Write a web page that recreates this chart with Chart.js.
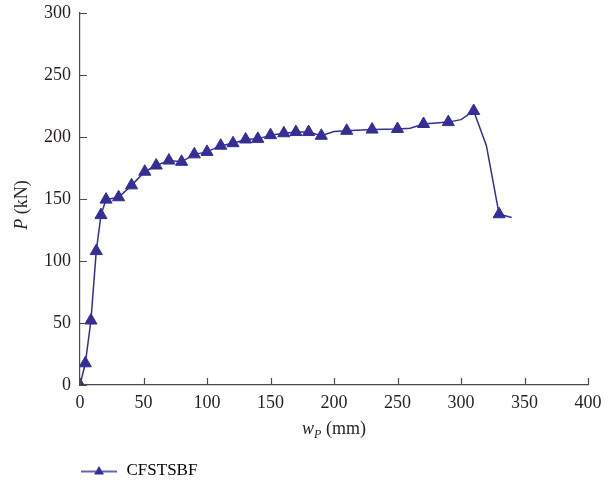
<!DOCTYPE html>
<html>
<head>
<meta charset="utf-8">
<script src="https://cdn.jsdelivr.net/npm/chart.js@4.4.1/dist/chart.umd.min.js"></script>
<style>
  html, body { margin: 0; padding: 0; background: #fff; }
  #wrap { width: 605px; height: 490px; }
</style>
</head>
<body>
<div id="wrap"><canvas id="loadChart" width="605" height="490"></canvas></div>
<script>
// load-displacement curve
var wp = [0, 4.2, 8.6, 12.8, 16.5, 20.5, 30.4, 40.6, 51, 60, 70, 80, 90, 100, 110.8, 120.5,
  130.4, 140, 150, 160.5, 170, 180, 190, 200, 210, 230, 250, 260, 270.5, 290, 300, 310, 320, 330, 340];
var pLoad = [0, 17.5, 52, 108, 137, 149.5, 151.4, 161, 172, 177, 181, 180, 186, 188, 193, 195,
  198, 198.5, 201.5, 203, 204, 204, 201, 204.5, 205, 206, 206.5, 207, 210.5, 212, 214, 221, 193, 137.7, 135];
// points on the curve that carry no marker
var unmarked = [200, 260, 300, 320, 340];
var xTicks = [0, 50, 100, 150, 200, 250, 300, 350, 400];
var yTicks = [0, 50, 100, 150, 200, 250, 300];
var seriesName = "CFSTSBF";

var lineColor = "#352e94";
var axisColor = "#4a4a4a";
var textColor = "#231f20";
var serif = "'Liberation Serif', 'Times New Roman', serif";

// legend icon: short line with a triangle
var icon = document.createElement("canvas");
icon.width = 36;
icon.height = 14;
var ic = icon.getContext("2d");
ic.strokeStyle = lineColor;
ic.lineWidth = 1.5;
ic.beginPath();
ic.moveTo(0, 8);
ic.lineTo(36, 8);
ic.stroke();
ic.fillStyle = lineColor;
ic.beginPath();
ic.moveTo(18, 2.5);
ic.lineTo(23, 11);
ic.lineTo(13, 11);
ic.closePath();
ic.fill();

var points = wp.map(function (x, i) {
  return { x: x, y: pLoad[i] };
});

// inward tick marks + axis titles
var axisExtras = {
  id: "axisExtras",
  afterDraw: function (chart) {
    var ctx = chart.ctx;
    var xs = chart.scales.x, ys = chart.scales.y;
    var area = chart.chartArea;
    ctx.save();
    ctx.strokeStyle = axisColor;
    ctx.lineWidth = 1.2;
    ctx.beginPath();
    xTicks.forEach(function (v) {
      var px = Math.round(xs.getPixelForValue(v)) + 0.5;
      ctx.moveTo(px, area.bottom);
      ctx.lineTo(px, area.bottom - 7);
    });
    yTicks.forEach(function (v) {
      var py = Math.round(ys.getPixelForValue(v)) + 0.5;
      ctx.moveTo(area.left, py);
      ctx.lineTo(area.left + 7, py);
    });
    ctx.stroke();

    ctx.fillStyle = textColor;
    ctx.textBaseline = "alphabetic";
    ctx.textAlign = "left";

    // x title: w_P (mm)
    var it = "italic 18px " + serif, sub = "italic 12px " + serif, rg = "18px " + serif;
    ctx.font = it; var w1 = ctx.measureText("w").width;
    ctx.font = sub; var w2 = ctx.measureText("P").width;
    ctx.font = rg; var w3 = ctx.measureText(" (mm)").width;
    var cx = (area.left + area.right) / 2;
    var x0 = cx - (w1 + w2 + w3) / 2, by = 434;
    ctx.font = it; ctx.fillText("w", x0, by);
    ctx.font = sub; ctx.fillText("P", x0 + w1, by + 4);
    ctx.font = rg; ctx.fillText(" (mm)", x0 + w1 + w2, by);

    // y title: P (kN)
    ctx.translate(27, 205);
    ctx.rotate(-Math.PI / 2);
    ctx.font = it; var v1 = ctx.measureText("P").width;
    ctx.font = rg; var v2 = ctx.measureText(" (kN)").width;
    var y0 = -(v1 + v2) / 2;
    ctx.font = it; ctx.fillText("P", y0, 0);
    ctx.font = rg; ctx.fillText(" (kN)", y0 + v1, 0);
    ctx.restore();
  }
};

var chart = new Chart(document.getElementById("loadChart").getContext("2d"), {
  type: "line",
  data: {
    datasets: [
      {
        label: seriesName,
        data: points,
        borderColor: lineColor,
        backgroundColor: lineColor,
        borderWidth: 1.5,
        tension: 0,
        pointStyle: "triangle",
        pointRadius: function (c) {
          return unmarked.indexOf(wp[c.dataIndex]) >= 0 ? 0 : 7;
        },
        pointBorderWidth: 1,
        pointBackgroundColor: lineColor,
        pointBorderColor: lineColor,
        fill: false,
      },
    ],
  },
  options: {
    responsive: false,
    animation: false,
    layout: { padding: { top: 13, right: 17, bottom: 1, left: 40 } },
    plugins: {
      tooltip: { enabled: false },
      legend: {
        position: "bottom",
        align: "start",
        labels: {
          usePointStyle: true,
          pointStyle: icon,
          pointStyleWidth: 38,
          padding: 40,
          color: textColor,
          font: { family: serif, size: 17 },
          generateLabels: function (ch) {
            return [{ text: seriesName, pointStyle: icon, fillStyle: lineColor, strokeStyle: lineColor, lineWidth: 0, datasetIndex: 0 }];
          },
        },
      },
    },
    scales: {
      x: {
        type: "linear",
        min: 0,
        max: 400,
        afterFit: function (s) { s.height = 37; s.paddingLeft = 0; s.paddingRight = 0; },
        afterBuildTicks: function (s) { s.ticks = xTicks.map(function (v) { return { value: v }; }); },
        grid: { display: false, drawTicks: false },
        border: { display: true, color: axisColor, width: 1.2 },
        ticks: { color: textColor, padding: 7, maxRotation: 0, font: { family: serif, size: 18 } },
      },
      y: {
        min: 0,
        max: 300,
        afterFit: function (s) { s.width = 40; s.paddingTop = 0; s.paddingBottom = 0; },
        afterBuildTicks: function (s) { s.ticks = yTicks.map(function (v) { return { value: v }; }); },
        grid: { display: false, drawTicks: false },
        border: { display: true, color: axisColor, width: 1.2 },
        ticks: { color: textColor, padding: 9, font: { family: serif, size: 18 } },
      },
    },
  },
  plugins: [axisExtras],
});
</script>
</body>
</html>
